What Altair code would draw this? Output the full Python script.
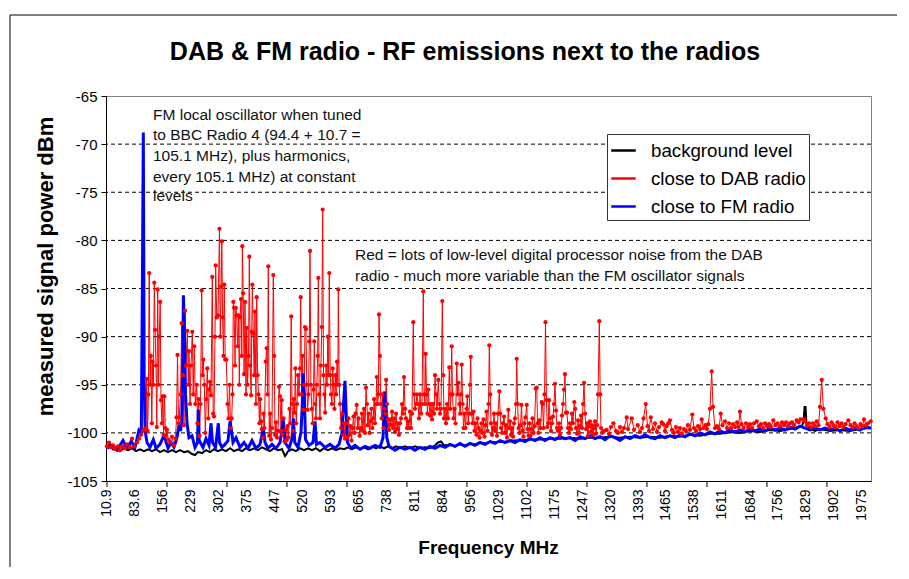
import altair as alt
import pandas as pd

# ---------------- data (frequency MHz, measured dBm) ----------------
background = [
    (10.9,-101.5),(18.7,-101.2),(26.5,-101.7),(34.3,-101.5),(44.7,-101.9),(55.1,-101.6),(65.6,-101.8),
    (76.0,-101.6),(86.4,-101.9),(96.8,-101.7),(107.2,-101.9),(117.6,-101.7),(128.0,-101.9),(138.4,-101.7),
    (148.8,-102.0),(159.2,-101.8),(169.6,-102.0),(180.0,-101.8),(190.5,-102.0),(200.9,-101.8),(211.3,-102.0),
    (221.7,-101.9),(232.1,-102.2),(239.9,-102.3),(247.7,-102.0),(258.1,-102.1),(268.5,-101.8),(278.9,-102.0),
    (289.3,-101.7),(299.7,-101.9),(310.1,-101.7),(320.6,-101.9),(331.0,-101.6),(341.4,-101.9),(351.8,-101.7),
    (362.2,-101.9),(372.6,-101.6),(383.0,-101.8),(393.4,-101.6),(403.8,-101.8),(414.2,-101.5),(424.6,-101.7),
    (435.0,-101.9),(445.4,-101.6),(455.9,-101.8),(466.3,-101.7),(474.1,-102.4),(478.0,-102.2),(481.9,-101.9),
    (492.3,-101.7),(502.7,-101.9),(513.1,-101.6),(523.5,-101.8),(533.9,-101.6),(544.3,-101.8),(554.7,-101.6),
    (565.1,-101.9),(575.5,-101.6),(585.9,-101.8),(596.3,-101.6),(606.8,-101.8),(617.2,-101.6),(627.6,-101.7),
    (638.0,-101.5),(648.4,-101.7),(658.8,-101.5),(669.2,-101.7),(679.6,-101.5),(690.0,-101.7),(700.4,-101.4),
    (710.9,-101.6),(721.3,-101.4),(731.7,-101.6),(742.1,-101.4),(752.5,-101.6),(762.9,-101.4),(773.3,-101.6),
    (786.3,-101.4),(799.3,-101.6),(812.3,-101.4),(825.3,-101.6),(838.3,-101.5),(851.4,-101.6),(864.4,-101.3),
    (872.2,-101.0),(880.0,-100.9),(887.8,-101.3),(903.4,-101.2),(916.4,-101.4),(929.4,-101.2),(942.4,-101.3),
    (955.5,-101.1),(968.5,-101.2),(981.5,-101.0),(994.5,-101.1),(1007.5,-100.9),(1020.5,-101.0),(1033.5,-100.9),
    (1046.6,-101.0),(1059.5,-100.8),(1085.5,-100.8),(1111.6,-100.7),(1137.6,-100.7),(1163.6,-100.6),
    (1189.6,-100.6),(1215.6,-100.5),(1241.7,-100.6),(1267.7,-100.5),(1293.7,-100.5),(1319.7,-100.4),
    (1345.7,-100.5),(1371.8,-100.4),(1397.8,-100.5),(1423.8,-100.4),(1449.8,-100.5),(1475.8,-100.3),
    (1501.7,-100.4),(1527.7,-100.2),(1553.9,-100.3),(1579.9,-100.1),(1605.9,-100.1),(1632.0,-99.9),
    (1658.0,-100.0),(1684.0,-99.8),(1710.0,-99.9),(1736.0,-99.7),(1762.1,-99.8),(1788.1,-99.6),(1808.9,-99.4),
    (1819.3,-99.3),(1823.3,-98.8),(1825.9,-97.3),(1828.5,-97.3),(1831.1,-99.2),(1840.1,-99.6),(1853.1,-99.8),
    (1866.2,-99.6),(1892.2,-99.8),(1918.2,-99.7),(1944.2,-99.8),(1970.2,-99.6),(1998.8,-99.5),
]

dab_radio = [
    (10.9,-101.4),(16.1,-101.0),(21.3,-101.5),(26.5,-101.3),(31.7,-101.7),(39.5,-101.4),(44.7,-101.8),
    (49.9,-101.4),(57.8,-101.6),(63.0,-101.2),(70.8,-101.5),(76.0,-100.6),(81.2,-101.4),(89.0,-101.0),
    (94.2,-100.6),(99.4,-100.2),(104.6,-99.8),(109.8,-99.6),
    (112.4,-99.5),(114.2,-94.4),(116.6,-99.8),(118.6,-96.0),(120.7,-83.4),(123.1,-95.0),(125.1,-92.0),
    (127.5,-99.0),(129.6,-92.6),(131.6,-95.0),(134.0,-84.4),(136.1,-89.3),(138.4,-93.0),(140.5,-99.4),
    (142.8,-85.1),(144.9,-95.0),(147.0,-90.0),(149.3,-86.4),(151.4,-96.6),(153.8,-99.0),(155.8,-96.2),
    (158.2,-100.2),(160.3,-96.2),(162.6,-99.5),(164.7,-100.3),(167.0,-99.7),(170.4,-100.7),(174.8,-101.0),
    (180.0,-100.4),(185.2,-101.3),(189.2,-100.6),(191.8,-98.4),(194.4,-91.9),(197.0,-99.0),(199.0,-98.4),
    (202.2,-96.0),(205.3,-88.6),(208.1,-94.0),(211.3,-99.2),(213.9,-87.3),(216.5,-93.0),(219.9,-89.4),
    (222.2,-95.0),(224.3,-91.5),(226.9,-97.0),(229.5,-93.0),(232.9,-89.5),(235.2,-96.0),(238.1,-91.0),
    (240.7,-97.0),(244.3,-95.0),(246.4,-99.0),(249.0,-96.5),(251.6,-100.3),(254.2,-97.0),(257.3,-85.2),
    (259.4,-94.0),(261.5,-92.4),(264.1,-95.0),(266.7,-100.0),(269.3,-96.5),(271.9,-93.3),(274.5,-98.5),
    (276.8,-95.5),(278.9,-94.7),(281.5,-96.1),(284.9,-83.8),(287.2,-98.0),(289.3,-98.3),(291.9,-90.0),
    (293.7,-82.6),(296.4,-88.0),(299.7,-87.8),(303.6,-78.8),(305.7,-90.0),(308.1,-84.8),(309.6,-80.1),
    (311.7,-88.0),(314.0,-92.0),(316.1,-84.6),(318.5,-92.4),(321.3,-92.4),(324.5,-97.0),(327.1,-98.5),
    (329.7,-95.0),(332.3,-99.5),(335.4,-98.5),(337.5,-96.0),(339.6,-86.4),(341.6,-87.0),(344.0,-93.0),
    (346.1,-87.0),(348.4,-87.8),(350.7,-91.0),(353.1,-87.8),(355.2,-95.0),(357.2,-88.0),(359.6,-86.1),
    (361.7,-92.0),(363.0,-80.6),(365.3,-85.5),(367.6,-93.9),(370.0,-86.4),(372.6,-96.0),(374.4,-89.1),
    (376.7,-95.0),(379.1,-92.0),(381.2,-81.7),(383.5,-93.0),(385.9,-96.1),(387.4,-89.5),(389.2,-84.6),
    (391.6,-89.7),(393.9,-94.0),(396.0,-87.4),(398.4,-97.0),(400.4,-85.9),(402.8,-94.0),(405.1,-96.0),
    (407.5,-99.0),(409.5,-96.5),(411.6,-98.8),(413.7,-99.6),(416.1,-100.5),(418.1,-98.0),(420.5,-99.5),
    (423.9,-92.6),(426.4,-91.2),(428.5,-96.0),(430.6,-82.7),(433.0,-100.3),(435.3,-98.0),(437.6,-100.7),
    (440.2,-99.5),(443.6,-83.6),(446.0,-92.0),(448.1,-100.2),(450.7,-98.9),(453.3,-100.5),(455.9,-99.8),
    (458.5,-95.2),(461.1,-96.2),(463.7,-99.8),(465.5,-96.6),(467.6,-100.2),(470.2,-98.5),(472.8,-100.9),
    (475.4,-99.7),(478.0,-100.8),(480.6,-99.3),(483.2,-100.5),(485.8,-97.5),(487.9,-99.0),(490.2,-87.9),
    (492.3,-97.0),(494.4,-99.8),(496.7,-96.5),(498.8,-97.9),(501.1,-93.3),(503.2,-99.0),(505.3,-97.0),
    (507.9,-94.0),(510.5,-96.0),(513.1,-93.3),(514.9,-85.9),(517.3,-96.0),(519.6,-92.0),(521.7,-97.6),
    (524.0,-95.0),(526.1,-89.0),(528.5,-89.2),(530.8,-95.0),(532.9,-97.6),(535.2,-96.0),(537.3,-90.5),
    (539.1,-81.1),(541.4,-95.0),(543.8,-97.5),(546.1,-99.0),(548.2,-95.5),(550.3,-90.5),(552.6,-97.0),
    (554.7,-98.5),(557.0,-95.0),(559.1,-92.0),(560.7,-83.9),(563.0,-96.0),(565.1,-98.5),(567.5,-93.0),
    (569.8,-89.0),(572.1,-76.8),(574.2,-94.0),(576.6,-96.0),(578.6,-97.9),(581.0,-93.0),(583.4,-95.0),
    (585.4,-90.0),(587.5,-94.0),(589.3,-83.4),(591.7,-94.0),(593.8,-96.0),(596.1,-97.0),(598.2,-93.3),
    (600.3,-95.0),(602.6,-97.5),(604.7,-94.0),(607.1,-96.0),(609.4,-92.6),(611.5,-95.0),(612.8,-85.1),
    (615.1,-95.0),(617.2,-97.0),
    (619.8,-99.5),(622.4,-98.0),(625.0,-100.2),(627.6,-99.0),(630.2,-100.6),(633.5,-99.0),(636.7,-100.5),
    (639.3,-98.5),(641.9,-100.2),(644.5,-99.3),(647.1,-100.8),(649.7,-99.5),(652.3,-98.3),(654.9,-100.0),
    (657.5,-98.0),(660.6,-97.1),(663.2,-99.5),(665.8,-98.5),(668.4,-100.3),(671.8,-99.5),(674.4,-98.0),
    (677.0,-99.8),(679.6,-97.5),(682.2,-100.0),(684.8,-95.3),(687.2,-97.0),(689.5,-99.2),(691.9,-98.0),
    (694.2,-100.0),(696.5,-98.8),(698.9,-97.5),(701.2,-99.5),(703.6,-98.5),(705.9,-96.5),(708.3,-99.0),
    (710.9,-97.0),(712.7,-94.2),(715.0,-97.0),(717.1,-96.0),(718.7,-87.7),(721.0,-92.0),(723.4,-97.0),
    (725.7,-98.5),(728.0,-96.0),(730.4,-99.5),(732.7,-97.5),(735.1,-98.0),(737.2,-94.5),(739.5,-97.0),
    (742.1,-98.6),(744.7,-99.7),(747.3,-98.6),(749.9,-99.2),(752.5,-97.8),(755.1,-99.5),(757.7,-98.5),
    (760.3,-99.9),(762.9,-98.0),(765.5,-99.6),(768.1,-99.0),(770.7,-100.2),(773.3,-99.0),(775.9,-98.5),
    (778.5,-97.0),(781.1,-98.0),(783.7,-94.2),(786.3,-97.5),(788.9,-98.5),(791.5,-99.5),(794.1,-98.8),
    (796.7,-99.5),(799.3,-97.8),(801.9,-99.5),(804.5,-98.0),(807.9,-88.5),(810.2,-96.0),(812.3,-97.5),
    (814.9,-97.0),(817.5,-96.0),(820.1,-97.0),(822.7,-98.5),(825.3,-96.0),(827.9,-98.0),(830.5,-97.0),
    (833.9,-85.3),(836.2,-96.0),(838.3,-97.0),(840.1,-91.8),(842.5,-96.0),(844.8,-98.0),(846.9,-95.5),
    (849.2,-97.0),(851.4,-98.2),(854.0,-97.0),(856.6,-98.6),(859.2,-97.0),(861.8,-98.0),(864.4,-94.0),
    (867.0,-96.0),(869.6,-97.5),(872.9,-94.5),(875.3,-97.0),(877.4,-98.0),(880.0,-97.5),(883.4,-86.3),
    (885.7,-94.0),(887.8,-98.5),(890.4,-97.5),(893.0,-99.0),(895.6,-97.0),(898.2,-98.5),(901.6,-93.2),
    (903.9,-97.5),(906.0,-96.0),(907.8,-91.0),(909.9,-96.0),(912.5,-98.5),(915.1,-97.5),(917.7,-99.0),
    (920.9,-92.8),(923.2,-96.0),(925.5,-94.8),(927.6,-97.0),(930.0,-98.0),(932.0,-96.0),(933.9,-92.9),
    (936.2,-97.0),(938.6,-99.5),(941.2,-98.0),(943.8,-99.5),(946.4,-97.5),(948.5,-96.2),(950.8,-99.0),
    (952.9,-98.0),(955.5,-95.0),(957.3,-92.1),(959.6,-98.0),(962.0,-99.0),
    (964.6,-97.8),(967.2,-99.8),(969.8,-99.0),(972.4,-100.2),(975.0,-98.5),(977.6,-99.5),(980.2,-100.5),
    (982.8,-99.8),(985.4,-99.0),(988.0,-100.0),(990.6,-98.6),(993.2,-100.4),(995.8,-99.2),(998.4,-97.8),
    (1001.0,-99.8),(1003.6,-97.0),(1005.7,-90.9),(1008.0,-96.0),(1010.1,-99.0),(1012.7,-100.2),(1015.3,-99.5),
    (1017.9,-98.0),(1020.5,-99.8),(1023.1,-99.0),(1025.7,-100.3),(1028.3,-98.0),(1031.7,-95.7),(1034.0,-98.0),
    (1036.2,-99.5),(1038.8,-100.0),(1041.4,-99.0),(1044.0,-98.3),(1046.6,-100.0),(1049.2,-99.2),(1051.7,-100.5),
    (1055.1,-97.6),(1057.5,-99.5),(1059.5,-98.8),(1062.1,-100.2),(1064.7,-99.5),(1067.3,-100.4),(1069.9,-99.0),
    (1072.5,-98.5),(1075.1,-97.0),(1077.0,-92.3),(1079.3,-97.0),(1081.7,-99.5),(1084.3,-100.0),(1086.9,-99.2),
    (1089.4,-97.1),(1092.0,-99.8),(1094.6,-100.4),(1097.2,-99.0),(1099.8,-98.4),(1103.0,-97.1),(1105.3,-99.6),
    (1107.7,-100.3),(1110.3,-99.0),(1112.9,-100.3),(1115.5,-99.6),(1118.1,-98.5),(1120.7,-100.0),(1123.3,-99.3),
    (1126.4,-95.4),(1129.0,-95.3),(1131.4,-99.0),(1133.7,-100.0),(1136.3,-98.7),(1138.9,-99.5),(1142.0,-96.8),
    (1144.1,-97.0),(1146.7,-99.5),(1149.3,-96.0),(1151.9,-88.5),(1154.3,-96.6),(1156.6,-99.4),(1158.9,-99.0),
    (1161.0,-96.6),(1163.6,-98.5),(1166.2,-99.8),(1168.8,-99.0),(1171.4,-98.3),(1174.0,-97.0),(1176.6,-94.9),
    (1179.2,-97.7),(1181.8,-99.5),(1184.4,-99.8),(1187.0,-99.0),(1189.6,-100.2),(1192.2,-99.5),(1194.8,-98.2),
    (1197.4,-97.0),(1200.0,-95.5),(1202.6,-93.9),(1205.2,-97.9),(1207.8,-97.9),(1210.4,-99.5),(1213.0,-100.0),
    (1215.6,-99.0),(1218.2,-99.6),(1220.8,-98.0),(1223.4,-99.0),(1226.8,-96.8),(1229.1,-97.5),(1231.3,-99.5),
    (1233.9,-100.1),(1236.5,-98.7),(1239.1,-100.0),(1241.7,-99.3),(1244.3,-98.2),(1246.9,-99.5),(1249.5,-97.0),
    (1252.1,-94.8),(1254.7,-98.0),(1257.3,-99.6),(1259.9,-99.0),(1262.5,-100.3),(1265.1,-99.3),(1267.7,-98.8),
    (1270.3,-99.9),(1272.9,-99.2),(1275.5,-100.2),(1278.1,-99.5),(1280.7,-98.8),(1283.3,-100.1),(1285.9,-99.2),
    (1288.5,-96.0),(1291.9,-88.4),(1294.2,-96.0),(1296.3,-99.5),(1298.9,-100.0),
    (1304.1,-99.8),(1311.2,-99.7),(1317.1,-100.1),(1322.3,-99.4),(1328.3,-99.0),(1335.3,-99.8),(1340.5,-100.0),
    (1345.7,-99.4),(1350.9,-99.9),(1356.1,-99.5),(1363.2,-98.4),(1366.6,-99.6),(1376.2,-98.5),(1382.2,-99.7),
    (1391.8,-99.2),(1397.8,-99.9),(1403.0,-99.5),(1406.9,-98.5),(1412.6,-97.0),(1417.3,-99.3),(1421.2,-99.8),
    (1425.6,-98.4),(1431.6,-99.6),(1436.8,-99.0),(1442.0,-99.9),(1447.2,-99.4),(1454.2,-98.9),(1458.4,-99.1),
    (1462.8,-99.8),(1466.7,-99.3),(1471.4,-99.0),(1475.8,-98.7),(1481.0,-99.7),(1486.2,-100.0),(1491.4,-99.4),
    (1496.6,-99.9),(1501.7,-99.5),(1506.9,-100.1),(1512.1,-99.6),(1517.3,-99.8),(1522.5,-99.2),(1527.7,-99.7),
    (1533.8,-98.1),(1538.3,-99.5),(1543.5,-99.8),(1548.7,-99.3),(1553.9,-99.6),(1558.3,-98.6),(1562.9,-99.5),
    (1568.1,-99.2),(1572.1,-99.6),(1575.5,-99.1),(1579.9,-97.5),(1584.3,-93.6),(1587.7,-97.3),(1592.9,-99.5),
    (1598.1,-99.3),(1603.3,-99.6),(1607.7,-98.0),(1612.4,-99.2),(1618.9,-98.8),(1624.1,-99.5),(1629.3,-99.0),
    (1634.6,-99.5),(1639.8,-99.1),(1645.0,-99.4),(1650.2,-98.9),(1654.1,-99.4),(1658.0,-97.8),(1661.9,-99.1),
    (1667.1,-99.5),(1673.6,-99.0),(1678.8,-99.4),(1684.0,-99.1),(1689.2,-99.5),(1694.4,-99.0),(1701.4,-98.8),
    (1707.4,-99.3),(1712.6,-99.1),(1717.8,-99.5),(1723.0,-99.0),(1728.2,-99.3),(1733.4,-99.1),(1738.6,-99.4),
    (1744.6,-98.7),(1750.3,-99.2),(1755.5,-99.0),(1762.1,-99.3),(1767.3,-98.9),(1772.5,-99.2),(1777.7,-98.9),
    (1782.9,-99.3),(1788.1,-99.0),(1793.3,-98.9),(1798.5,-99.2),(1805.5,-98.7),(1810.2,-98.9),(1815.4,-98.6),
    (1822.7,-98.6),(1827.1,-98.8),(1832.3,-99.2),(1837.5,-99.0),(1842.7,-99.4),(1847.9,-99.0),(1853.1,-99.3),
    (1857.6,-98.8),(1862.3,-99.2),(1866.2,-97.3),(1870.6,-94.5),(1874.8,-97.5),(1881.0,-98.5),(1885.7,-99.1),
    (1890.9,-99.4),(1896.1,-98.9),(1901.3,-99.2),(1906.5,-99.4),(1911.7,-98.9),(1916.9,-99.3),(1922.1,-99.0),
    (1927.3,-99.4),(1932.5,-99.1),(1939.8,-98.7),(1945.5,-99.2),(1950.7,-99.4),(1955.9,-99.0),(1961.1,-99.3),
    (1966.3,-99.5),(1971.5,-99.1),(1976.7,-99.3),(1980.6,-98.6),(1985.8,-99.2),(1991.0,-99.0),(1998.0,-98.8),
]

fm_radio = [
    (10.9,-101.6),(23.9,-101.3),(36.9,-101.8),(52.5,-100.8),(63.0,-101.6),(73.4,-100.9),(83.8,-101.5),
    (94.2,-99.7),(100.2,-99.9),(103.0,-84.5),(105.4,-68.8),(107.7,-94.5),(110.1,-99.8),(115.0,-101.0),
    (122.8,-101.5),(131.4,-100.7),(138.4,-101.6),(148.8,-101.2),(157.4,-100.4),(161.8,-100.6),(169.6,-101.6),
    (177.4,-101.0),(185.2,-101.5),(193.1,-100.5),(198.3,-99.2),(202.2,-99.8),(205.3,-99.0),(207.4,-94.5),
    (209.7,-85.7),(212.0,-88.5),(215.2,-96.0),(219.1,-99.0),(224.3,-100.5),(232.1,-100.3),(239.9,-101.5),
    (246.4,-101.0),(248.5,-97.6),(250.8,-100.8),(260.7,-101.5),(268.5,-100.6),(276.3,-101.3),(281.5,-99.0),
    (285.4,-101.0),(293.2,-101.5),(300.5,-99.0),(303.6,-101.0),(310.1,-101.5),(317.9,-101.2),(325.8,-100.8),
    (331.0,-98.8),(334.9,-99.8),(338.8,-101.0),(346.6,-100.5),(357.0,-101.5),(367.4,-101.0),(377.8,-101.6),
    (388.2,-100.8),(398.6,-101.6),(409.0,-101.2),(417.6,-99.5),(422.0,-101.0),(429.8,-101.6),(440.2,-101.2),
    (450.7,-101.6),(461.1,-101.0),(469.7,-98.7),(474.1,-101.0),(484.5,-101.6),(492.3,-100.6),(495.7,-98.5),
    (499.6,-101.0),(507.9,-101.5),(515.7,-99.9),(519.1,-97.0),(521.7,-93.8),(524.3,-96.0),(527.4,-100.7),
    (536.5,-101.3),(546.9,-101.0),(552.1,-98.8),(556.0,-101.2),(565.1,-101.0),(578.2,-101.5),(591.2,-101.2),
    (604.2,-101.6),(614.6,-101.2),(622.4,-100.0),(627.1,-96.5),(630.2,-94.6),(633.3,-98.0),(636.7,-101.0),
    (645.8,-101.6),(656.2,-101.3),(669.2,-101.7),(682.2,-101.4),(695.2,-101.6),(708.3,-101.3),(721.3,-101.5),
    (729.1,-100.5),(732.7,-95.7),(735.8,-97.0),(738.9,-100.5),(744.7,-101.4),(760.3,-101.8),(773.3,-101.5),
    (786.3,-101.7),(799.3,-101.5),(812.3,-101.8),(825.3,-101.5),(838.3,-101.7),(851.4,-101.4),(864.4,-101.6),
    (877.4,-101.3),(890.4,-101.5),(903.4,-101.2),(916.4,-101.4),(929.4,-101.1),(942.4,-101.4),(955.5,-101.1),
    (968.5,-101.3),(981.5,-101.0),(994.5,-101.2),(1007.5,-100.9),(1020.5,-101.1),(1033.5,-100.8),(1046.6,-101.0),
    (1059.5,-100.8),(1072.5,-101.0),(1085.5,-100.7),(1098.6,-100.9),(1111.6,-100.6),(1124.6,-100.8),
    (1137.6,-100.5),(1150.6,-100.8),(1163.6,-100.5),(1176.6,-100.7),(1189.6,-100.4),(1202.6,-100.6),
    (1215.6,-100.5),(1228.7,-100.8),(1241.7,-100.4),(1254.7,-100.6),(1267.7,-100.3),(1280.7,-100.6),
    (1293.7,-100.4),(1306.7,-100.7),(1319.7,-100.3),(1332.7,-100.5),(1345.7,-100.8),(1358.8,-100.4),
    (1371.8,-100.6),(1384.8,-100.3),(1397.8,-100.5),(1410.8,-100.2),(1423.8,-100.5),(1436.8,-100.6),
    (1449.8,-100.3),(1462.8,-100.5),(1475.8,-100.3),(1488.9,-100.5),(1501.7,-100.2),(1514.7,-100.4),
    (1527.7,-100.1),(1540.7,-100.3),(1553.9,-100.0),(1566.9,-100.2),(1579.9,-99.9),(1592.9,-100.1),
    (1605.9,-99.8),(1618.9,-100.0),(1632.0,-99.7),(1645.0,-99.9),(1658.0,-99.7),(1671.0,-99.9),(1684.0,-99.6),
    (1697.0,-99.8),(1710.0,-99.6),(1723.0,-99.8),(1736.0,-99.5),(1749.0,-99.7),(1762.1,-99.5),(1775.1,-99.7),
    (1788.1,-99.4),(1801.1,-99.6),(1814.1,-99.3),(1827.1,-99.5),(1840.1,-99.7),(1853.1,-99.5),(1866.2,-99.7),
    (1879.2,-99.5),(1892.2,-99.7),(1905.2,-99.5),(1918.2,-99.8),(1931.2,-99.5),(1944.2,-99.7),(1957.2,-99.5),
    (1970.2,-99.7),(1983.2,-99.4),(1998.8,-99.5),
]

series_names = ["background level", "close to DAB radio", "close to FM radio"]
series_colors = ["#000000", "#ff0000", "#0000ff"]

x_labels = [10.9, 83.6, 156, 229, 302, 375, 447, 520, 593, 665, 738, 811, 884, 956, 1029,
            1102, 1175, 1247, 1320, 1393, 1465, 1538, 1611, 1684, 1756, 1829, 1902, 1975]
x_ticks = [10.9, 167.0, 323.1, 479.2, 635.3, 791.4, 947.5, 1103.7, 1259.8, 1415.9, 1572.0, 1728.1, 1884.2]
y_labels = [-105, -100, -95, -90, -85, -80, -75, -70, -65]
y_grid = [-100, -95, -90, -85, -80, -75, -70]

chart_title = "DAB & FM radio - RF emissions next to the radios"
note_fm = ["FM local oscillator when tuned", "to BBC Radio 4 (94.4 + 10.7 =",
           "105.1 MHz), plus harmonics,", "every 105.1 MHz) at constant", "levels"]
note_fm_freq = 130.6
note_fm_dbm = [-66.97, -69.05, -71.23, -73.38, -75.44]
note_dab = ["Red = lots of low-level digital processor noise from the DAB",
            "radio - much more variable than the FM oscillator signals"]
note_dab_freq = 656.2
note_dab_dbm = [-81.52, -83.70]

# ---------------- build frames ----------------
def to_df(pairs, name):
    return pd.DataFrame({"freq": [p[0] for p in pairs], "dbm": [p[1] for p in pairs], "series": name})

df_bg = to_df(background, series_names[0])
df_dab = to_df(dab_radio, series_names[1])
df_fm = to_df(fm_radio, series_names[2])

notes = pd.DataFrame({
    "freq": [note_fm_freq] * len(note_fm) + [note_dab_freq] * len(note_dab),
    "dbm": note_fm_dbm + note_dab_dbm,
    "txt": note_fm + note_dab,
})

FONT = "Liberation Sans"
W, H = 765, 385

xs = alt.Scale(domain=[8.3, 1998.8], nice=False, zero=False)
ys = alt.Scale(domain=[-105, -65], nice=False, zero=False)
cs = alt.Scale(domain=series_names, range=series_colors)

x_axis = alt.Axis(values=x_labels, labelExpr="'' + datum.value", labelAngle=270,
                  labelOverlap=False, labelBound=False, labelFlush=False,
                  tickSize=0, labelPadding=8, labelFontSize=14, labelColor="black",
                  domainColor="black", domainWidth=1, grid=False,
                  title="Frequency MHz", titleFontSize=19, titleFontWeight="bold",
                  titleColor="black", titleX=382, titleY=66, titleAlign="center",
                  titleBaseline="middle")
y_axis = alt.Axis(values=y_labels, labelExpr="'' + datum.value", tickSize=5, tickColor="black",
                  labelPadding=4, labelOverlap=False,
                  labelFontSize=15, labelColor="black", domainColor="black", grid=False,
                  title="measured signal power dBm", titleFontSize=22, titleFontWeight="bold",
                  titleColor="black", titleAngle=270, titleX=-61, titleY=170,
                  titleAlign="center", titleBaseline="middle")

X = alt.X("freq:Q", scale=xs, axis=x_axis)
Y = alt.Y("dbm:Q", scale=ys, axis=y_axis)

legend = alt.Legend(title=None, orient="none", legendX=501, legendY=38, symbolType="stroke",
                    symbolSize=600, symbolStrokeWidth=2.5, labelFontSize=18.7, labelFont=FONT,
                    labelColor="black", labelOffset=14, padding=3, rowPadding=4,
                    strokeColor="#333333", fillColor="white")
C = alt.Color("series:N", scale=cs, legend=legend)

frame = alt.Chart(pd.DataFrame({"k": [0]})).mark_rect(fill=None, stroke="black", strokeWidth=1).encode(
    x=alt.value(-96), y=alt.value(-81), x2=alt.value(1200), y2=alt.value(1200))

title_mark = alt.Chart(pd.DataFrame({"t": [chart_title]})).mark_text(
    fontSize=25, fontWeight="bold", font=FONT, color="black", align="center", baseline="middle").encode(
    x=alt.value(359), y=alt.value(-44), text="t:N")

grid = alt.Chart(pd.DataFrame({"dbm": y_grid})).mark_rule(
    color="black", strokeDash=[4, 3], strokeWidth=1).encode(y=Y)

xticks = alt.Chart(pd.DataFrame({"freq": x_ticks})).mark_rule(color="black", strokeWidth=1).encode(
    x=X, y=alt.value(H), y2=alt.value(H + 6))

bg_line = alt.Chart(df_bg).mark_line(strokeWidth=2).encode(x=X, y=Y, color=C, order="freq:Q")
dab_line = alt.Chart(df_dab).mark_line(strokeWidth=1).encode(x=X, y=Y, color=C, order="freq:Q")
fm_line = alt.Chart(df_fm).mark_line(strokeWidth=3).encode(x=X, y=Y, color=C, order="freq:Q")
dab_pts = alt.Chart(df_dab).mark_point(filled=True, shape="circle", size=18, opacity=1).encode(
    x=X, y=Y, color=alt.value("#ff0000"))

text = alt.Chart(notes).mark_text(align="left", baseline="middle", fontSize=15.5, font=FONT,
                                  color="#111111").encode(x=X, y=Y, text="txt:N")

chart = alt.layer(bg_line, frame, title_mark, grid, xticks, dab_line, fm_line, dab_pts, text).properties(
    width=W, height=H,
    autosize=alt.AutoSizeParams(type="none"),
    padding={"left": 98, "top": 88, "right": 26, "bottom": 86},
).configure(font=FONT).configure_view(stroke="#808080", strokeWidth=1).configure_axis(
    labelFont=FONT, titleFont=FONT)

chart.save("out.html", embed_options={"renderer": "svg", "actions": False})
